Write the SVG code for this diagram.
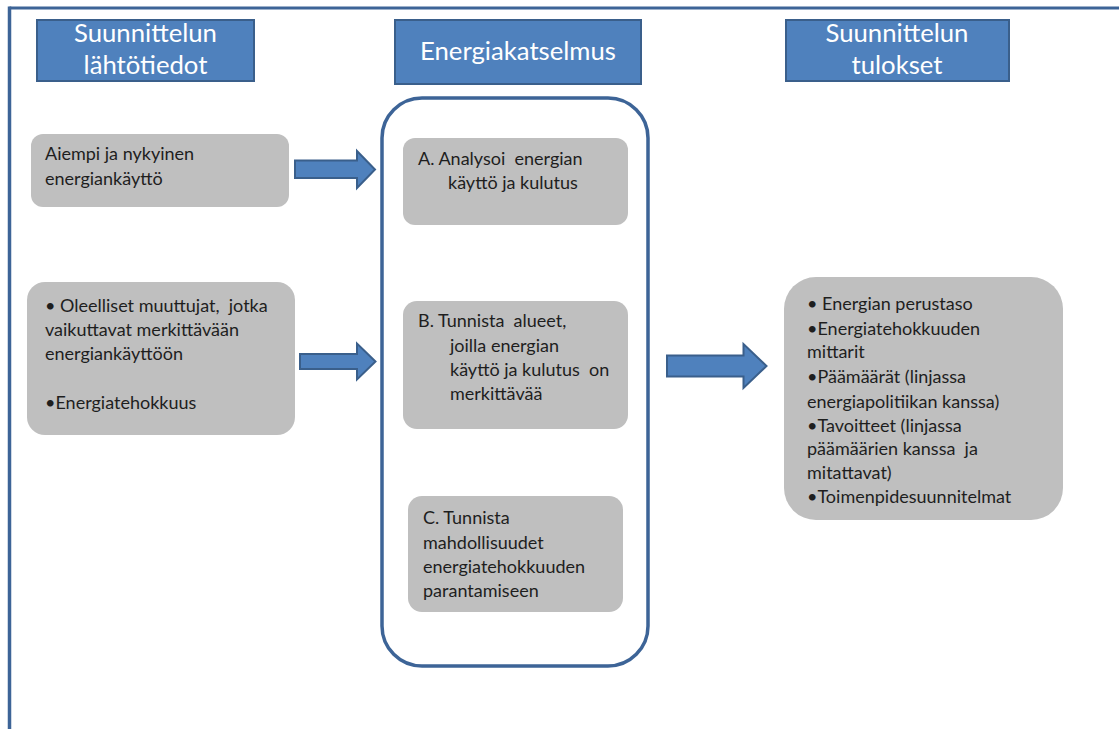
<svg xmlns="http://www.w3.org/2000/svg" width="1119" height="729" viewBox="0 0 1119 729">
  <style>
    .hdr { fill: #4f81bd; stroke: #3a5f8b; stroke-width: 2; }
    .hdr-t { font-family: "Lato", "Liberation Sans", sans-serif; font-size: 25.7px; fill: #ffffff; }
    .box { fill: #bfbfbf; }
    .t { font-family: "Lato", "Liberation Sans", sans-serif; font-size: 18px; fill: #1e1e1e; white-space: pre; }
    .arrow { fill: #4f81bd; stroke: #3a5f8b; stroke-width: 2; stroke-linejoin: miter; }
    .frame { fill: none; stroke: #3d6497; stroke-width: 3.5; }
  </style>

  <rect width="1119" height="729" fill="#ffffff"/>

  <!-- outer frame: top and left edges -->
  <g id="frame">
    <line x1="9.5" y1="8" x2="1119" y2="8" stroke="#3d6497" stroke-width="3"/>
    <line x1="9.5" y1="6.5" x2="9.5" y2="729" stroke="#3d6497" stroke-width="3.5"/>
  </g>

  <!-- column headers -->
  <g id="hdr-inputs">
    <rect class="hdr" x="37" y="20" width="217" height="61"/>
    <text class="hdr-t" text-anchor="middle" x="145.5" y="42">Suunnittelun</text>
    <text class="hdr-t" text-anchor="middle" x="145.5" y="74">lähtötiedot</text>
  </g>
  <g id="hdr-audit">
    <rect class="hdr" x="395" y="20" width="246" height="64"/>
    <text class="hdr-t" text-anchor="middle" x="518" y="60">Energiakatselmus</text>
  </g>
  <g id="hdr-outputs">
    <rect class="hdr" x="786" y="20" width="223" height="61"/>
    <text class="hdr-t" text-anchor="middle" x="897" y="42">Suunnittelun</text>
    <text class="hdr-t" text-anchor="middle" x="897" y="74">tulokset</text>
  </g>

  <!-- input boxes -->
  <g id="in-usage">
    <rect class="box" x="31" y="134" width="258" height="73" rx="12"/>
    <text class="t" x="45" y="160">Aiempi ja nykyinen</text>
    <text class="t" x="45" y="185">energiankäyttö</text>
  </g>
  <g id="in-variables">
    <rect class="box" x="27" y="282" width="268" height="153" rx="18"/>
    <text class="t" x="45" y="312">• Oleelliset muuttujat,  jotka</text>
    <text class="t" x="45" y="336">vaikuttavat merkittävään</text>
    <text class="t" x="45" y="360">energiankäyttöön</text>
    <text class="t" x="45" y="409">•Energiatehokkuus</text>
  </g>

  <!-- energy audit container -->
  <g id="audit">
    <rect class="frame" x="382" y="98" width="266" height="568" rx="40"/>
  </g>
  <g id="step-a">
    <rect class="box" x="403" y="138" width="225" height="87" rx="12"/>
    <text class="t" x="418" y="165">A. Analysoi  energian</text>
    <text class="t" x="448" y="189">käyttö ja kulutus</text>
  </g>
  <g id="step-b">
    <rect class="box" x="403" y="301" width="225" height="128" rx="14"/>
    <text class="t" x="418" y="327">B. Tunnista  alueet,</text>
    <text class="t" x="450" y="352">joilla energian</text>
    <text class="t" x="450" y="376">käyttö ja kulutus  on</text>
    <text class="t" x="450" y="400">merkittävää</text>
  </g>
  <g id="step-c">
    <rect class="box" x="408" y="496" width="215" height="116" rx="14"/>
    <text class="t" x="423" y="524">C. Tunnista</text>
    <text class="t" x="423" y="549">mahdollisuudet</text>
    <text class="t" x="423" y="573">energiatehokkuuden</text>
    <text class="t" x="423" y="597">parantamiseen</text>
  </g>

  <!-- output box -->
  <g id="outputs">
    <rect class="box" x="784" y="277" width="279" height="243" rx="32"/>
    <text class="t" x="807" y="310">• Energian perustaso</text>
    <text class="t" x="807" y="335">•Energiatehokkuuden</text>
    <text class="t" x="807" y="358">mittarit</text>
    <text class="t" x="807" y="383">•Päämäärät (linjassa</text>
    <text class="t" x="807" y="408">energiapolitiikan kanssa)</text>
    <text class="t" x="807" y="432">•Tavoitteet (linjassa</text>
    <text class="t" x="807" y="455">päämäärien kanssa  ja</text>
    <text class="t" x="807" y="479">mitattavat)</text>
    <text class="t" x="807" y="503">•Toimenpidesuunnitelmat</text>
  </g>

  <!-- block arrows between columns -->
  <g id="connectors">
    <polygon class="arrow" points="295,160.5 357,160.5 357,151 375,169.5 357,188 357,178 295,178"/>
    <polygon class="arrow" points="300,354 357,354 357,343.5 375.5,361.5 357,379.5 357,369 300,369"/>
    <polygon class="arrow" points="667,355.5 743.5,355.5 743.5,344 766.5,366 743.5,388 743.5,376.5 667,376.5"/>
  </g>
</svg>
